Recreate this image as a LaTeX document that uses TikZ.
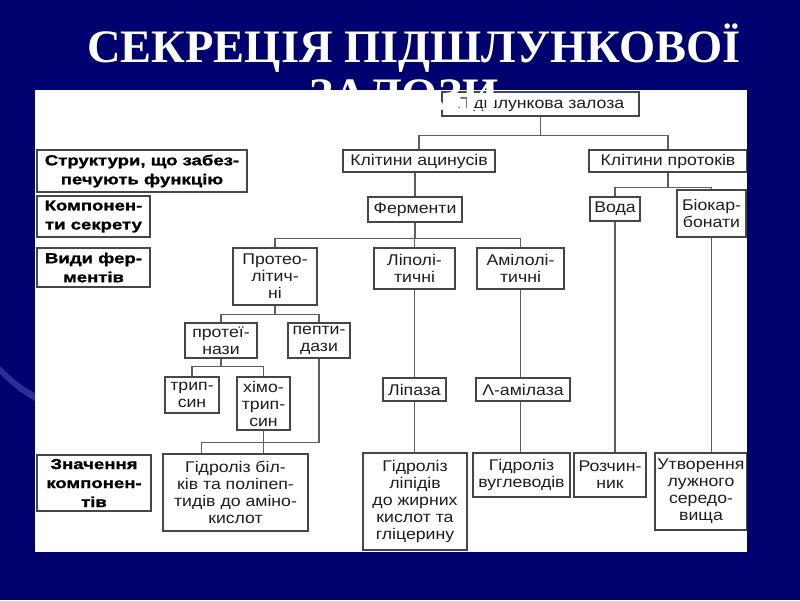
\documentclass[tikz,border=0pt]{standalone}
\usepackage{fontspec}
\setmainfont{Liberation Serif}
\newfontfamily\boxfont[FakeStretch=1.14]{Liberation Sans}
\newfontfamily\rowfont[FakeStretch=1.28, FakeBold=1.2]{Liberation Sans}
\usepackage{tikz}
\usetikzlibrary{shadows}
\definecolor{slidebg}{RGB}{0,0,110}
\definecolor{slideswoosh}{RGB}{75,75,180}
\definecolor{boxline}{RGB}{70,70,70}
\definecolor{linkgray}{RGB}{95,95,95}
\definecolor{boxtext}{RGB}{30,30,30}
\tikzstyle{unit} = [rectangle, draw=boxline, line width=1.1pt, fill=white, inner sep=1pt, align=center, text=boxtext, font=\boxfont\fontsize{15.5}{17}\selectfont, drop shadow={shadow xshift=1.2pt, shadow yshift=-1.2pt, fill=black!45}]
\tikzstyle{rowlabel} = [unit, text=black, font=\rowfont\bfseries\fontsize{14.5}{19}\selectfont]
\tikzstyle{link} = [draw=linkgray, line width=1.2pt]
\tikzstyle{heading} = [anchor=base, text=white, inner sep=0pt, font=\bfseries\fontsize{46.5}{48}\selectfont]

\begin{document}
\begin{tikzpicture}[x=1pt, y=-1pt]
\useasboundingbox (0,0) rectangle (800,600);
% Slide
\fill[slidebg] (0,0) rectangle (800,600);
\fill[slideswoosh, opacity=0.6] (0,366) .. controls (12,378) and (24,388) .. (35,393) -- (35,401) .. controls (22,394) and (10,384) .. (0,374) -- cycle;
\fill[white] (35,90) rectangle (747,552);
\begin{scope}
\clip (35,90) rectangle (747,552);
% Row labels
\node (lstruct) [rowlabel, minimum width=210pt, minimum height=42pt] at (142,171) {Структури, що забез-\\печують функцію};
\node (lcomp) [rowlabel, minimum width=113pt, minimum height=41pt] at (93.5,216.5) {Компонен-\\ти секрету};
\node (ltypes) [rowlabel, minimum width=113pt, minimum height=39pt] at (93.5,267.5) {Види фер-\\ментів};
\node (lmean) [rowlabel, minimum width=114pt, minimum height=56pt] at (94,483) {Значення\\компонен-\\тів};
% Tree
\node (gland) [unit, minimum width=197pt, minimum height=24pt] at (540.5,104) {Підшлункова залоза};
\node (acin) [unit, minimum width=152pt, minimum height=22pt] at (419,161) {Клітини ацинусів};
\node (ducts) [unit, minimum width=158pt, minimum height=22pt] at (668,161) {Клітини протоків};
\node (enz) [unit, minimum width=94pt, minimum height=25pt] at (415,209.5) {Ферменти};
\node (water) [unit, minimum width=50pt, minimum height=24pt] at (615,209) {Вода};
\node (bicarb) [unit, minimum width=69pt, minimum height=47pt] at (711.5,213.5) {Біокар-\\бонати};
\node (prot) [unit, minimum width=84pt, minimum height=57pt] at (275,276.5) {Протео-\\літич-\\ні};
\node (lipo) [unit, minimum width=81pt, minimum height=41pt] at (414.5,268.5) {Ліполі-\\тичні};
\node (amylo) [unit, minimum width=87pt, minimum height=41pt] at (520.5,268.5) {Амілолі-\\тичні};
\node (proteinases) [unit, minimum width=72pt, minimum height=35pt] at (221,340.5) {протеї-\\нази};
\node (peptidases) [unit, minimum width=62pt, minimum height=35pt] at (319,340.5) {пепти-\\дази};
\node (trypsin) [unit, minimum width=54pt, minimum height=36pt] at (192,395) {трип-\\син};
\node (chymo) [unit, minimum width=53pt, minimum height=53pt] at (263.5,403.5) {хімо-\\трип-\\син};
\node (lipase) [unit, minimum width=63pt, minimum height=23pt] at (414.5,389.5) {Ліпаза};
\node (amylase) [unit, minimum width=94pt, minimum height=23pt] at (523,389.5) {Λ-амілаза};
\node (hprot) [unit, minimum width=145pt, minimum height=77pt] at (235.5,492.5) {Гідроліз біл-\\ків та поліпеп-\\тидів до аміно-\\кислот};
\node (hlip) [unit, minimum width=104pt, minimum height=97pt] at (415,501.5) {Гідроліз\\ліпідів\\до жирних\\кислот та\\гліцерину};
\node (hcarb) [unit, minimum width=97pt, minimum height=44pt] at (521.5,475) {Гідроліз\\вуглеводів};
\node (solvent) [unit, minimum width=72pt, minimum height=44pt] at (610,475) {Розчин-\\ник};
\node (alkaline) [unit, minimum width=92pt, minimum height=77pt] at (701,491.5) {Утворення\\лужного\\середо-\\вища};
% Connectors
\draw[link] (gland.south) -- ++(0,19) coordinate (busa);
\draw[link] (acin.north) |- (busa) -| (ducts.north);
\draw[link] (acin.south -| enz.north) -- (enz.north);
\draw[link] (enz.south) -- ++(0,16) coordinate (busb);
\draw[link] (prot.north) |- (busb) -| (amylo.north);
\draw[link] (busb -| lipo.north) -- (lipo.north);
\draw[link] (ducts.south) -- ++(0,15) coordinate (busc);
\draw[link] (water.north) |- (busc) -| (bicarb.north);
\draw[link] (prot.south) -- ++(0,9) coordinate (busd);
\draw[link] (proteinases.north) |- (busd) -| (peptidases.north);
\draw[link] (proteinases.south) -- ++(0,8) coordinate (buse);
\draw[link] (trypsin.north) |- (buse) -| (chymo.north);
\draw[link] (peptidases.south) -- ++(0,84) -| ([xshift=-34pt]hprot.north);
\draw[link] (chymo.south) -- (chymo.south |- hprot.north);
\draw[link] (lipo.south) -- (lipase.north);
\draw[link] (lipase.south) -- (lipase.south |- hlip.north);
\draw[link] (amylo.south) -- (amylo.south |- amylase.north);
\draw[link] (amylo.south |- amylase.south) -- (amylo.south |- hcarb.north);
\draw[link] (water.south) -- (water.south |- solvent.north);
\draw[link] (bicarb.south) -- (bicarb.south |- alkaline.north);
\end{scope}
% Title
\node (title) [heading] at (414,62) {СЕКРЕЦІЯ ПІДШЛУНКОВОЇ};
\node (titlecont) [heading] at (404,110) {ЗАЛОЗИ};
\end{tikzpicture}
\end{document}
